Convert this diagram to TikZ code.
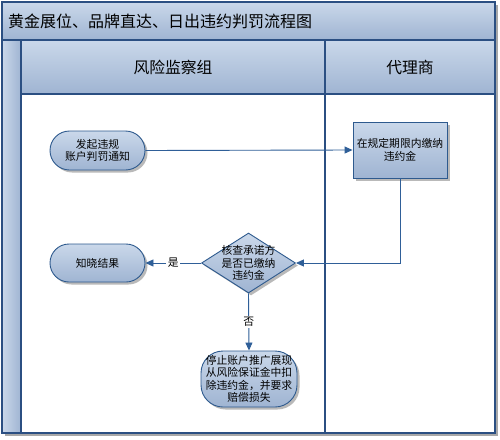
\documentclass[tikz,border=0pt]{standalone}
\usepackage{fontspec}
\setmainfont{Noto Sans CJK SC}
\usetikzlibrary{shapes.geometric,arrows.meta,shadows}
\definecolor{framec}{HTML}{2B4F82}
\definecolor{boxline}{HTML}{2E5A8E}
\definecolor{arrowc}{HTML}{2F5F98}
\definecolor{topc}{HTML}{CAD8EA}
\definecolor{botc}{HTML}{9FB4D2}
\definecolor{shadc}{HTML}{A8A8A8}
\tikzset{
  nodefont/.style={font=\fontsize{10.8}{12.5}\selectfont},
  shade/.style={top color=topc, bottom color=botc, draw=boxline, line width=0.9pt},
  shad/.style={drop shadow={shadow xshift=2.5pt, shadow yshift=-2.5pt, fill=shadc, opacity=0.8}},
  stadium/.style={shade, shad, nodefont, rectangle, align=center, inner sep=0pt},
  procbox/.style={shade, shad, nodefont, rectangle, align=center, inner sep=0pt},
  dia/.style={shade, shad, diamond, inner sep=0pt},
  txt/.style={nodefont, align=center, inner sep=0pt},
  conn/.style={draw=arrowc, line width=0.9pt, -{Triangle[length=8pt,width=7pt]}},
  lbl/.style={nodefont, fill=white, inner sep=1.5pt},
}
\begin{document}
\begin{tikzpicture}[x=1pt,y=-1pt]
\useasboundingbox (0,0) rectangle (500,439);
% frame shadow
\fill[shadc] (4.5,4.5) rectangle (497.5,435.5);
\fill[white] (2,2) rectangle (495,433);
% title band
\shade[top color=topc, bottom color=botc] (2,2) rectangle (495,40);
% left strip
\shade[left color=topc, right color=botc] (2,40) rectangle (21,433);
% headers
\shade[top color=topc, bottom color=botc] (21,40) rectangle (325,94);
\shade[top color=topc, bottom color=botc] (325,40) rectangle (495,94);
% frame lines
\draw[framec, line width=1.1pt] (2,2) rectangle (495,433);
\draw[framec, line width=1.1pt] (2,40) -- (495,40);
\draw[framec, line width=1.1pt] (21,40) -- (21,433);
\draw[framec, line width=1.1pt] (21,94) -- (495,94);
\draw[framec, line width=1.1pt] (325,40) -- (325,433);
% texts
\node[anchor=west, inner sep=0pt, font=\fontsize{16}{18}\selectfont] (title) at (8,21) {黄金展位、品牌直达、日出违约判罚流程图};
\node[inner sep=0pt, font=\fontsize{15.8}{18}\selectfont] (lane1) at (173,67) {风险监察组};
\node[inner sep=0pt, font=\fontsize{15.8}{18}\selectfont] (lane2) at (410,67) {代理商};
% nodes
\node[stadium, minimum width=95pt, minimum height=39pt, rounded corners=19.5pt] (n1) at (97.5,150.5) {发起违规\\账户判罚通知};
\node[procbox, minimum width=94pt, minimum height=56pt] (n2) at (400,150) {在规定期限内缴纳\\违约金};
\node[dia, minimum width=94pt, minimum height=60pt] (d) at (248.5,263) {};
\node[txt] (dt) at (248.5,263) {核查承诺方\\是否已缴纳\\违约金};
\node[stadium, minimum width=95pt, minimum height=38pt, rounded corners=19pt] (n3) at (97.5,263) {知晓结果};
\node[stadium, minimum width=96pt, minimum height=56pt, rounded corners=22pt] (n4) at (249,379) {停止账户推广展现\\从风险保证金中扣\\除违约金，并要求\\赔偿损失};
% connectors
\draw[conn] (n1.east) -- (n2.west);
\draw[conn] (n2.south) |- (d.east);
\draw[conn] (d.west) -- node[lbl] {是} (n3.east);
\draw[conn] (d.south) -- node[lbl, pos=0.5] {否} (n4.north);
\end{tikzpicture}
\end{document}
